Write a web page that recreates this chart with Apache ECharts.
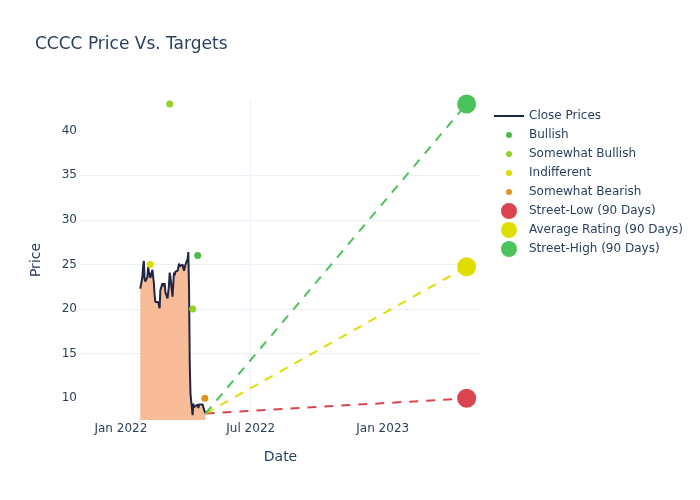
<!DOCTYPE html>
<html><head><meta charset="utf-8">
<script src="https://cdn.jsdelivr.net/npm/echarts@6/dist/echarts.min.js"></script>
<style>html,body{margin:0;padding:0;background:#fff}#c{width:700px;height:500px}</style>
</head><body><div id="c"></div>
<script>
// ---- data ----
const closeDates = ['2022-01-28','2022-01-31','2022-02-01','2022-02-02','2022-02-03','2022-02-04','2022-02-07','2022-02-08','2022-02-09','2022-02-10','2022-02-11','2022-02-14','2022-02-15','2022-02-16','2022-02-17','2022-02-18','2022-02-22','2022-02-23','2022-02-24','2022-02-25','2022-02-28','2022-03-01','2022-03-02','2022-03-03','2022-03-04','2022-03-07','2022-03-08','2022-03-09','2022-03-10','2022-03-11','2022-03-14','2022-03-15','2022-03-16','2022-03-17','2022-03-18','2022-03-21','2022-03-22','2022-03-23','2022-03-24','2022-03-25','2022-03-28','2022-03-29','2022-03-30','2022-03-31','2022-04-01','2022-04-04','2022-04-05','2022-04-06','2022-04-07','2022-04-08','2022-04-11','2022-04-12','2022-04-13','2022-04-14','2022-04-18','2022-04-19','2022-04-20','2022-04-21','2022-04-22','2022-04-25','2022-04-26','2022-04-27','2022-04-28','2022-04-29'];
const closePrices = [22.3,23.6,24.8,25.4,23.4,23.1,23.6,24.7,24.2,23.9,23.5,24.4,23.6,22.9,21.6,20.8,20.8,20.6,20.1,22.1,22.9,22.6,22.8,22.9,21.9,21.2,21.3,22.6,24.1,23.6,21.4,22.8,24.1,23.8,24.2,24.3,24.6,25.1,24.8,24.7,25.0,24.6,24.3,24.5,25.0,25.6,26.4,22.3,13.9,10.5,8.1,9.4,9.0,9.1,9.3,8.9,9.3,9.4,9.2,9.3,9.0,8.7,8.5,8.3];

const bullishDates = ['2022-04-18'];
const bullishValues = [26];
const somewhatBullishDates = ['2022-03-10','2022-04-11'];
const somewhatBullishValues = [43,20];
const indifferentDates = ['2022-02-11'];
const indifferentValues = [25];
const somewhatBearishDates = ['2022-04-28'];
const somewhatBearishValues = [10];

const targetDate = '2023-04-28';
const streetLow = 10;
const averageRating = 24.75;
const streetHigh = 43;

const xTickDates = ['2022-01-01','2022-07-01','2023-01-01'];
const yTicks = [10,15,20,25,30,35,40];
const xRange = ['2021-11-05','2023-05-18'];
const yRange = [7.57, 43.44];

// ---- helpers ----
const ts = s => { const [y,m,d] = s.split('-').map(Number); return new Date(y, m-1, d).getTime(); };
const MONTHS = ['Jan','Feb','Mar','Apr','May','Jun','Jul','Aug','Sep','Oct','Nov','Dec'];
const pairs = (ds, vs) => ds.map((d,i) => [ts(d), vs[i]]);
const lastDate = closeDates[closeDates.length-1];
const lastPrice = closePrices[closePrices.length-1];
const TXT = '#2a3f5f';
const FONT = '"DejaVu Sans", sans-serif';
const dotIcon = 'path://M0,0 L0.01,0 M30,16 L29.99,16 M18,8 A3,3 0 1 1 12,8 A3,3 0 1 1 18,8 Z';
const lineIcon = 'path://M0,0 L0.01,0 M30,16 L29.99,16 M0,7 L30,7 L30,9 L0,9 Z';

const C = {
  close:'#1f2643', fill:'#f8bc99',
  bullish:'#4cbb4a', sBullish:'#92d02a', indiff:'#dddd00', sBearish:'#e0921e',
  low:'#d9444e', avg:'#dede00', high:'#4cc35a'
};

const dashLine = (name, target, color) => ({
  name, type:'line', silent:true, symbol:'none',
  data:[[ts(lastDate), lastPrice],[ts(targetDate), target]],
  lineStyle:{color, width:2, type:[9,8]}, z:3
});
const dots = (name, ds, vs, color) => ({
  name, type:'scatter', symbolSize:7, data:pairs(ds, vs),
  itemStyle:{color, opacity:1}, z:4
});
const big = (name, v, color) => ({
  name, type:'scatter', symbolSize:19, data:[[ts(targetDate), v]],
  itemStyle:{color, opacity:1}, z:5
});

const chart = echarts.init(document.getElementById('c'), null, {renderer:'canvas'});
chart.setOption({
  animation:false,
  backgroundColor:'#fff',
  textStyle:{fontFamily:FONT},
  title:{text:'CCCC Price Vs. Targets', left:35, top:36, padding:0,
    textStyle:{fontFamily:FONT, fontSize:17, fontWeight:'normal', color:TXT}},
  grid:{left:80, right:219, top:100, bottom:80, containLabel:false},
  legend:{
    orient:'vertical', left:494, top:108, padding:0, itemWidth:30, itemHeight:16, itemGap:3,
    textStyle:{fontFamily:FONT, fontSize:12, color:TXT},
    data:[
      {name:'Close Prices', icon:lineIcon},
      {name:'Bullish', icon:dotIcon},
      {name:'Somewhat Bullish', icon:dotIcon},
      {name:'Indifferent', icon:dotIcon},
      {name:'Somewhat Bearish', icon:dotIcon},
      {name:'Street-Low (90 Days)', icon:'circle'},
      {name:'Average Rating (90 Days)', icon:'circle'},
      {name:'Street-High (90 Days)', icon:'circle'}
    ]
  },
  xAxis:{
    type:'value', min:ts(xRange[0]), max:ts(xRange[1]), scale:true,
    name:'Date', nameLocation:'middle', nameGap:30,
    nameTextStyle:{fontFamily:FONT, fontSize:14, color:TXT},
    axisLine:{show:false}, axisTick:{show:false, customValues:xTickDates.map(ts)},
    axisLabel:{customValues:xTickDates.map(ts), margin:3, fontFamily:FONT, fontSize:12, color:TXT,
      formatter:v => { const d = new Date(v); return MONTHS[d.getMonth()] + ' ' + d.getFullYear(); }},
    splitLine:{show:true, lineStyle:{color:'#ebf0f8', width:1}, showMinLine:false, showMaxLine:false}
  },
  yAxis:{
    type:'value', min:yRange[0], max:yRange[1],
    name:'Price', nameLocation:'middle', nameGap:37,
    nameTextStyle:{fontFamily:FONT, fontSize:14, color:TXT},
    axisLine:{show:false}, axisTick:{show:false, customValues:yTicks},
    axisLabel:{customValues:yTicks, margin:3, fontFamily:FONT, fontSize:12, color:TXT},
    splitLine:{show:true, lineStyle:{color:'#ebf0f8', width:1}, showMinLine:false, showMaxLine:false}
  },
  series:[
    {name:'Close Prices', type:'line', symbol:'none', showSymbol:false,
     data:pairs(closeDates, closePrices),
     lineStyle:{color:C.close, width:2}, itemStyle:{color:C.close},
     areaStyle:{color:C.fill, opacity:1, origin:'start'}, z:2},
    dots('Bullish', bullishDates, bullishValues, C.bullish),
    dots('Somewhat Bullish', somewhatBullishDates, somewhatBullishValues, C.sBullish),
    dots('Indifferent', indifferentDates, indifferentValues, C.indiff),
    dots('Somewhat Bearish', somewhatBearishDates, somewhatBearishValues, C.sBearish),
    dashLine('low-line', streetLow, C.low),
    dashLine('avg-line', averageRating, C.avg),
    dashLine('high-line', streetHigh, C.high),
    big('Street-Low (90 Days)', streetLow, C.low),
    big('Average Rating (90 Days)', averageRating, C.avg),
    big('Street-High (90 Days)', streetHigh, C.high)
  ]
});
</script>
</body></html>
